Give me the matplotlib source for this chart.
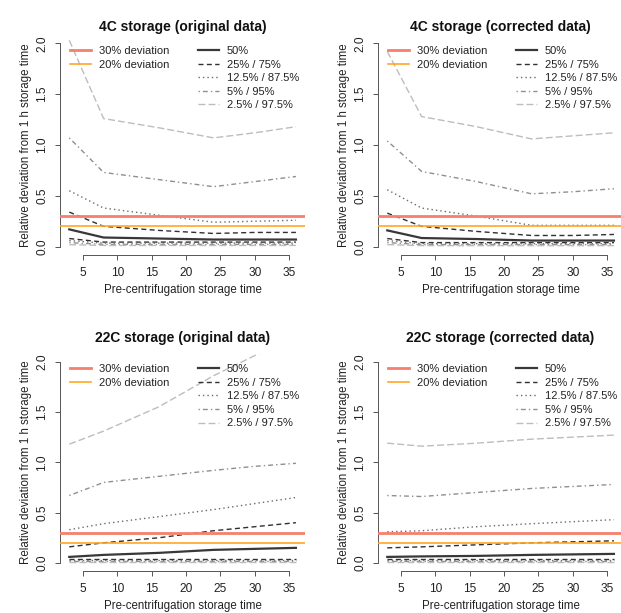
import matplotlib
matplotlib.use('Agg')
import matplotlib.pyplot as plt
from matplotlib.lines import Line2D

plt.rcParams['font.family'] = ['Liberation Sans', 'DejaVu Sans']
plt.rcParams['lines.scale_dashes'] = False

# ---------------- data ----------------
hours = [3, 8, 16, 24, 30, 36]

titles = ["4C storage (original data)", "4C storage (corrected data)",
          "22C storage (original data)", "22C storage (corrected data)"]
xticks = [5, 10, 15, 20, 25, 30, 35]
yticks = [0.0, 0.5, 1.0, 1.5, 2.0]
ytick_labels = ["0.0", "0.5", "1.0", "1.5", "2.0"]
legend_limits = ["30% deviation", "20% deviation"]
limit_values = [0.3, 0.2]
legend_quant = ["50%", "25% / 75%", "12.5% / 87.5%", "5% / 95%", "2.5% / 97.5%"]

# 4C original
c4o_p50 = [0.17, 0.09, 0.08, 0.07, 0.07, 0.07]
c4o_p75 = [0.34, 0.20, 0.16, 0.13, 0.14, 0.14]
c4o_p875 = [0.55, 0.38, 0.31, 0.24, 0.25, 0.26]
c4o_p95 = [1.07, 0.73, 0.66, 0.59, 0.64, 0.69]
c4o_p975 = [2.03, 1.26, 1.17, 1.07, 1.12, 1.18]
c4o_p25 = [0.08, 0.045, 0.045, 0.045, 0.045, 0.045]
c4o_p125 = [0.06, 0.035, 0.035, 0.035, 0.035, 0.035]
c4o_p5 = [0.04, 0.022, 0.022, 0.022, 0.022, 0.022]
c4o_p25b = [0.02, 0.012, 0.012, 0.012, 0.012, 0.012]

# 4C corrected
c4c_p50 = [0.16, 0.085, 0.075, 0.06, 0.06, 0.06]
c4c_p75 = [0.33, 0.20, 0.15, 0.11, 0.11, 0.12]
c4c_p875 = [0.56, 0.38, 0.30, 0.21, 0.21, 0.21]
c4c_p95 = [1.04, 0.74, 0.64, 0.52, 0.54, 0.57]
c4c_p975 = [1.92, 1.28, 1.18, 1.06, 1.09, 1.12]
c4c_p25 = [0.08, 0.04, 0.04, 0.04, 0.04, 0.04]
c4c_p125 = [0.06, 0.03, 0.03, 0.03, 0.03, 0.03]
c4c_p5 = [0.04, 0.02, 0.02, 0.02, 0.02, 0.02]
c4c_p25b = [0.02, 0.01, 0.01, 0.01, 0.01, 0.01]

# 22C original
c22o_p50 = [0.06, 0.08, 0.10, 0.13, 0.14, 0.15]
c22o_p75 = [0.16, 0.20, 0.25, 0.32, 0.36, 0.40]
c22o_p875 = [0.33, 0.39, 0.46, 0.53, 0.59, 0.65]
c22o_p95 = [0.67, 0.80, 0.86, 0.92, 0.96, 0.99]
c22o_p975 = [1.18, 1.31, 1.55, 1.86, 2.06, 2.25]
c22o_p25 = [0.035, 0.035, 0.035, 0.035, 0.035, 0.035]
c22o_p125 = [0.025, 0.025, 0.025, 0.025, 0.025, 0.025]
c22o_p5 = [0.015, 0.015, 0.015, 0.015, 0.015, 0.015]
c22o_p25b = [0.008, 0.008, 0.008, 0.008, 0.008, 0.008]

# 22C corrected
c22c_p50 = [0.06, 0.065, 0.07, 0.08, 0.085, 0.09]
c22c_p75 = [0.15, 0.16, 0.18, 0.20, 0.21, 0.22]
c22c_p875 = [0.31, 0.32, 0.36, 0.39, 0.41, 0.43]
c22c_p95 = [0.67, 0.66, 0.70, 0.74, 0.76, 0.78]
c22c_p975 = [1.19, 1.16, 1.19, 1.23, 1.25, 1.27]
c22c_p25 = [0.035, 0.035, 0.035, 0.035, 0.035, 0.035]
c22c_p125 = [0.025, 0.025, 0.025, 0.025, 0.025, 0.025]
c22c_p5 = [0.015, 0.015, 0.015, 0.015, 0.015, 0.015]
c22c_p25b = [0.008, 0.008, 0.008, 0.008, 0.008, 0.008]

panels = [
    [c4o_p50, c4o_p75, c4o_p875, c4o_p95, c4o_p975, c4o_p25, c4o_p125, c4o_p5, c4o_p25b],
    [c4c_p50, c4c_p75, c4c_p875, c4c_p95, c4c_p975, c4c_p25, c4c_p125, c4c_p5, c4c_p25b],
    [c22o_p50, c22o_p75, c22o_p875, c22o_p95, c22o_p975, c22o_p25, c22o_p125, c22o_p5, c22o_p25b],
    [c22c_p50, c22c_p75, c22c_p875, c22c_p95, c22c_p975, c22c_p25, c22c_p125, c22c_p5, c22c_p25b],
]

# ---------------- styles ----------------
RED = '#F5806D'
ORANGE = '#FFA722'
st_p50 = dict(color='#383838', lw=1.6, ls='-')
st_p25 = dict(color='#303030', lw=1.0, ls=(0, (3.6, 2.4)))
st_p12 = dict(color='#6a6a6a', lw=1.0, ls=(0, (1.0, 2.2)))
st_p5 = dict(color='#8f8f8f', lw=1.0, ls=(0, (1.0, 2.2, 3.5, 2.2)))
st_p2 = dict(color='#bdbdbd', lw=1.0, ls=(0, (5.0, 2.2)))
quant_styles = [st_p50, st_p25, st_p12, st_p5, st_p2]
series_styles = [st_p50, st_p25, st_p12, st_p5, st_p2, st_p25, st_p12, st_p5, st_p2]

W, H = 621, 613
fig = plt.figure(figsize=(W / 100, H / 100), dpi=100)


def px_rect(left, right, top, bottom):
    return [left / W, 1 - bottom / H, (right - left) / W, (bottom - top) / H]


rects = [
    px_rect(60.2, 305.0, 35.2, 254.8),
    px_rect(378.2, 623.0, 35.2, 254.8),
    px_rect(60.2, 305.0, 353.6, 571.0),
    px_rect(378.2, 623.0, 353.6, 571.0),
]
title_pads = [3.2, 3.2, 8.6, 8.6]
xlabel_y = [-0.131, -0.131, -0.133, -0.133]

for i in range(4):
    ax = fig.add_axes(rects[i])
    ax.set_xlim(1.68, 37.32)
    ax.set_ylim(-0.08, 2.08)
    ax.axhline(limit_values[0], color=RED, lw=2.0, zorder=3)
    ax.axhline(limit_values[1], color=ORANGE, lw=1.2, zorder=3)
    for vals, st in zip(panels[i], series_styles):
        ax.plot(hours, vals, color=st['color'], lw=st['lw'], linestyle=st['ls'],
                zorder=2)

    for s in ['top', 'right']:
        ax.spines[s].set_visible(False)
    ax.spines['left'].set_bounds(0, 2)
    ax.spines['bottom'].set_bounds(5, 35)
    for s in ['left', 'bottom']:
        ax.spines[s].set_color('#555555')
        ax.spines[s].set_linewidth(0.7)
    ax.set_xticks(xticks)
    ax.set_yticks(yticks)
    ax.set_yticklabels(ytick_labels)
    ax.tick_params(direction='out', length=3.6, width=0.7, color='#555555',
                   labelsize=8.6, labelcolor='#222222')
    ax.tick_params(axis='x', pad=5.4)
    ax.tick_params(axis='y', pad=4.8, labelrotation=90)
    for lbl in ax.get_yticklabels():
        lbl.set_va('center')

    ax.set_title(titles[i], fontsize=10, fontweight='bold', pad=title_pads[i],
                 color='#111111')
    ax.set_xlabel("Pre-centrifugation storage time", fontsize=8.3, color='#222222')
    ax.set_ylabel("Relative deviation from 1 h storage time", fontsize=8.3,
                  color='#222222')
    ax.xaxis.set_label_coords(0.5, xlabel_y[i])
    ax.yaxis.set_label_coords(-0.115, 0.5)

    h1 = [Line2D([], [], color=RED, lw=2.0), Line2D([], [], color=ORANGE, lw=1.2)]
    leg1 = ax.legend(h1, legend_limits, loc='upper left', bbox_to_anchor=(0.040, 0.951),
                     frameon=False, fontsize=8, handlelength=1.9, handletextpad=0.75,
                     labelspacing=0.32, borderpad=0, borderaxespad=0)
    for t in leg1.get_texts():
        t.set_color('#222222')
    ax.add_artist(leg1)
    h2 = [Line2D([], [], color=st['color'], lw=st['lw'], linestyle=st['ls'])
          for st in quant_styles]
    leg2 = ax.legend(h2, legend_quant, loc='upper left', bbox_to_anchor=(0.561, 0.951),
                     frameon=False, fontsize=8, handlelength=1.9, handletextpad=0.75,
                     labelspacing=0.32, borderpad=0, borderaxespad=0)
    for t in leg2.get_texts():
        t.set_color('#222222')

fig.savefig('out.png', dpi=100)
